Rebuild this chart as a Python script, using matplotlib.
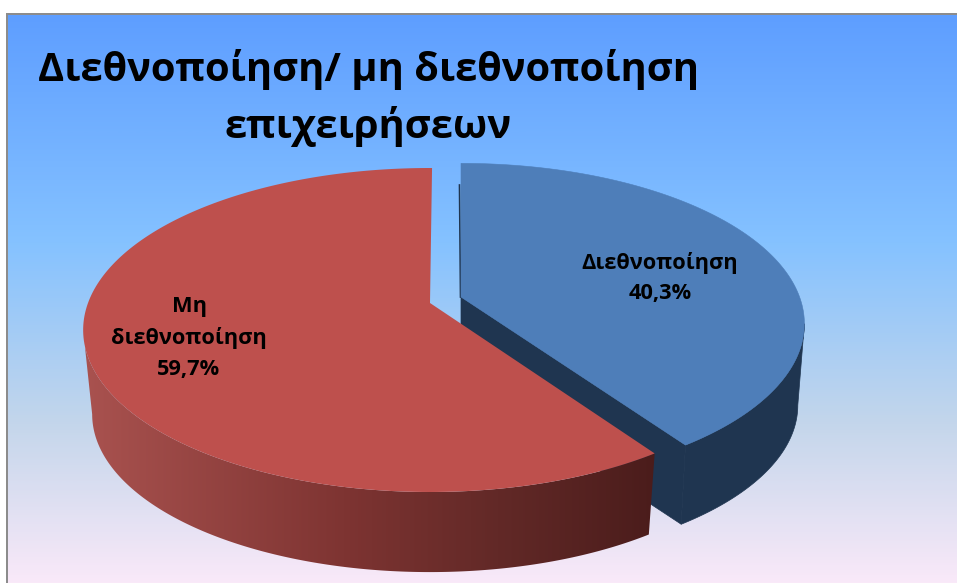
import numpy as np
import matplotlib.pyplot as plt
from matplotlib.colors import LinearSegmentedColormap
from matplotlib.patches import Polygon, Rectangle

# chart data
title = 'Διεθνοποίηση/ μη διεθνοποίηση\nεπιχειρήσεων'
labels = ['Διεθνοποίηση', 'Μη\nδιεθνοποίηση']
values = [40.3, 59.7]

FONT = 'Open Sans'
W, H = 957, 583

# tilted disc: radius, vertical radius and perspective strength
R, A, K = 342.0, 157.5, 1 / 6


def rim(deg, cx, cy, s=1.0):
    # deg runs clockwise from 12 o'clock
    t = np.radians(deg)
    d = 1 + K * np.cos(t)
    return np.column_stack((cx + s * R * np.sin(t) / d, cy - s * A * np.cos(t) / d))


def arc(a, b, cx, cy, s=1.0):
    return rim(np.linspace(a, b, 200), cx, cy, s)


fig = plt.figure(figsize=(W / 100, H / 100), dpi=100, facecolor='white')
ax = fig.add_axes([0, 0, 1, 1])

# background
bg = LinearSegmentedColormap.from_list(
    'daybreak', [(0, '#5E9EFF'), (0.39, '#85C2FF'), (0.70, '#C4D6EB'), (1, '#FFEBFA')])
ax.imshow(np.linspace(0, 0.97, 512).reshape(-1, 1), cmap=bg, vmin=0, vmax=1, aspect='auto',
          extent=(7, W, H, 14), zorder=0)
ax.add_patch(Rectangle((6, 13), W, 2.4, fc='#8c8c8c', ec='none', zorder=1))
ax.add_patch(Rectangle((6, 13), 2.4, H, fc='#8c8c8c', ec='none', zorder=1))

sweep = np.array(values) / sum(values) * 360
blue_end = sweep[0]
side_right = 99.6
side_left = 260.4

# blue slice, pulled out to the right
bx, by, bs = 461, 297, 0.99
blue_low = (461, 379)
blue_dark = '#1F3550'
ax.add_patch(Polygon(np.vstack((arc(side_right, blue_end, bx, by, bs),
                                arc(blue_end, side_right, blue_low[0], blue_low[1], 0.971))),
                     fc=blue_dark, ec=blue_dark, lw=0.5, zorder=2))
ax.add_patch(Polygon(np.vstack(([[bx, by]], rim(np.array([blue_end]), bx, by, bs),
                                rim(np.array([blue_end]), blue_low[0], blue_low[1], 0.971),
                                [blue_low])),
                     fc=blue_dark, ec=blue_dark, lw=0.5, zorder=2))
ax.plot([bx - 1.5, bx - 0.5], [185, by], color=blue_dark, lw=1.2, zorder=2)
ax.add_patch(Polygon(np.vstack(([[bx, by]], arc(0, blue_end, bx, by, bs))),
                     fc='#4E7EB9', ec='#4E7EB9', lw=0.4, zorder=3))

# red slice, turned slightly clockwise
rx, ry = 430, 303
turn = 0.4
red_low = (430, 388)
side = Polygon(np.vstack((arc(blue_end + turn, side_left, rx, ry),
                          arc(side_left, blue_end + turn, red_low[0], red_low[1], 0.974))),
               fc='none', ec='none', zorder=4)
ax.add_patch(side)
shade = LinearSegmentedColormap.from_list(
    'redside', [(0, '#A9524F'), (0.45, '#7E3432'), (0.72, '#622927'), (1, '#4A1C1B')])
img = ax.imshow(np.linspace(0, 1, 256).reshape(1, -1), cmap=shade, aspect='auto',
                extent=(85, 660, 580, 320), zorder=4)
img.set_clip_path(side)
ax.add_patch(Polygon(np.vstack(([[rx, ry]], arc(blue_end + turn, 360 + turn, rx, ry))),
                     fc='#BE504D', ec='none', zorder=5))

# texts
ax.text(368, 98, title, fontsize=28.7, fontweight='bold', family=FONT, color='black',
        ha='center', va='center', linespacing=1.49, zorder=6)
ax.text(660, 278, f'{labels[0]}\n{values[0]:.1f}%'.replace('.', ','), fontsize=15.7,
        fontweight='bold', family=FONT, ha='center', va='center', linespacing=1.62, zorder=6)
ax.text(189, 338, f'{labels[1]}\n{values[1]:.1f}%'.replace('.', ','), fontsize=15.7,
        fontweight='bold', family=FONT, ha='center', va='center', linespacing=1.62, zorder=6)

ax.set_xlim(0, W)
ax.set_ylim(H, 0)
ax.axis('off')
fig.savefig('out.png', dpi=100)
